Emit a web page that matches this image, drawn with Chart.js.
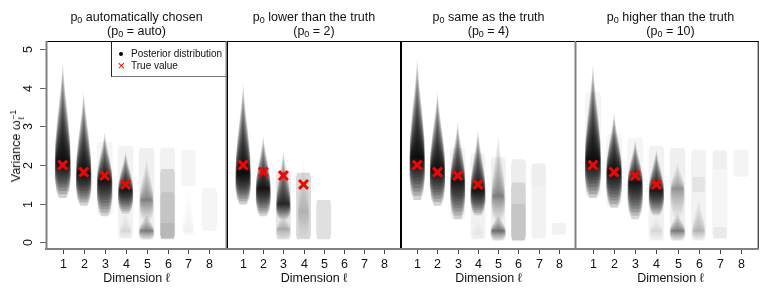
<!DOCTYPE html>
<html>
<head>
<meta charset="utf-8">
<script src="https://cdn.jsdelivr.net/npm/chart.js@4.4.1/dist/chart.umd.min.js"></script>
<style>
  body { margin: 0; width: 768px; height: 307px; background: #fff; position: relative; overflow: hidden;
         font-family: "Liberation Sans", Arial, sans-serif; color: #111; }
  canvas { position: absolute; left: 0; top: 0; }
  .ptitle { position: absolute; top: 10px; text-align: center; font-size: 12.5px; line-height: 14px; }
  .ptitle sub { font-size: 9px; vertical-align: -2px; line-height: 0; }
  .xtitle { position: absolute; top: 271px; text-align: center; font-size: 12.5px; line-height: 15px; }
  .ytitle { position: absolute; left: 17px; top: 146px; transform: translate(-50%, -50%) rotate(-90deg);
            white-space: nowrap; font-size: 12.5px; }
  .ss { display: inline-flex; flex-direction: column; font-size: 8.5px; line-height: 8px; vertical-align: middle; margin-left: 1px; }
  #legend { position: absolute; left: 111px; top: 41px; width: 115px; height: 35px;
            border-left: 1px solid #222; border-bottom: 1.5px solid #777; font-size: 10px; z-index: 2; }
  #legend .row { position: absolute; left: 19px; white-space: nowrap; line-height: 12px; }
  #legend .dot { position: absolute; left: 7px; top: 10.5px; width: 4px; height: 4px; border-radius: 50%; background: #000; }
  #legend .x { position: absolute; left: 5.5px; top: 17.5px; color: #ff0000; font-size: 13px; line-height: 13px; }
</style>
</head>
<body>
<div id="root"></div>
<div id="legend">
  <div class="dot"></div><div class="row" style="top:6.5px">Posterior distribution</div>
  <div class="x">×</div><div class="row" style="top:18.5px">True value</div>
</div>
<div class="ytitle">Variance ω<span class="ss"><span>−1</span><span>ℓ</span></span></div>
<script>
const dims = [1, 2, 3, 4, 5, 6, 7, 8];
const yTicks = [0, 1, 2, 3, 4, 5];
const trueValues = [2.0, 1.82, 1.73, 1.5];
const panelTitles = ["automatically chosen", "lower than the truth", "same as the truth", "higher than the truth"];
const panelP0 = ["auto", "2", "4", "10"];

// spindle: [dimension, low, mode, high, half width, peak darkness]
const spindlesAuto = [
  [1, 1.15, 2.1, 4.65, 0.38, 0.96],
  [2, 0.95, 1.8, 3.9, 0.37, 0.95],
  [3, 0.68, 1.6, 2.85, 0.37, 0.93],
  [4, 0.75, 1.35, 2.35, 0.36, 0.92],
  [4, 0.08, 0.3, 0.9, 0.3, 0.15],
  [5, 0.55, 1.1, 2.2, 0.34, 0.5],
  [5, 0.06, 0.3, 0.75, 0.37, 0.55],
  [7, 0.15, 0.3, 1.6, 0.3, 0.1],
];
const spindlesLow = [
  [1, 0.98, 1.8, 4.1, 0.38, 0.96],
  [2, 0.68, 1.4, 2.75, 0.37, 0.94],
  [3, 0.6, 1.0, 2.4, 0.36, 0.85],
  [3, 0.06, 0.35, 0.75, 0.36, 0.3],
  [4, 0.1, 0.8, 2.3, 0.3, 0.2],
];
const spindlesSame = [
  [1, 1.1, 2.2, 4.75, 0.38, 0.96],
  [2, 0.95, 1.9, 3.9, 0.38, 0.95],
  [3, 0.6, 1.6, 3.1, 0.37, 0.93],
  [4, 0.7, 1.35, 2.9, 0.37, 0.93],
  [4, 0.05, 0.25, 0.7, 0.3, 0.12],
  [5, 0.55, 1.2, 2.85, 0.34, 0.5],
  [5, 0.04, 0.3, 0.75, 0.38, 0.6],
];
const spindlesHigh = [
  [1, 1.15, 2.15, 4.6, 0.38, 0.96],
  [2, 0.9, 1.85, 3.35, 0.37, 0.95],
  [3, 0.6, 1.55, 2.65, 0.36, 0.93],
  [4, 0.7, 1.35, 2.4, 0.36, 0.92],
  [4, 0.05, 0.3, 0.75, 0.32, 0.15],
  [5, 0.65, 1.4, 2.1, 0.34, 0.45],
  [5, 0.04, 0.3, 0.8, 0.37, 0.55],
  [6, 0.05, 0.3, 1.2, 0.32, 0.3],
];

// block: [dimension, low, high, half width, opacity]
const blocksAuto = [
  [3, 0.7, 2.6, 0.38, 0.04],
  [4, 0.1, 2.5, 0.37, 0.05],
  [5, 0.08, 2.45, 0.37, 0.06],
  [6, 0.08, 2.45, 0.37, 0.05],
  [6, 0.08, 1.9, 0.35, 0.12],
  [6, 0.1, 1.3, 0.34, 0.08],
  [6, 0.12, 0.5, 0.34, 0.07],
  [7, 1.45, 2.4, 0.35, 0.04],
  [8, 0.3, 1.4, 0.36, 0.04],
];
const blocksLow = [
  [3, 0.08, 1.85, 0.37, 0.1],
  [4, 0.08, 1.8, 0.37, 0.15],
  [5, 0.08, 1.1, 0.37, 0.12],
];
const blocksSame = [
  [3, 0.6, 2.45, 0.38, 0.05],
  [4, 0.08, 2.3, 0.37, 0.05],
  [5, 0.05, 2.2, 0.37, 0.06],
  [6, 0.05, 2.15, 0.37, 0.07],
  [6, 0.05, 1.55, 0.36, 0.1],
  [6, 0.05, 1.0, 0.36, 0.07],
  [7, 0.1, 2.05, 0.36, 0.05],
  [7, 1.45, 2.05, 0.36, 0.02],
  [8, 0.2, 0.5, 0.36, 0.05],
];
const blocksHigh = [
  [1, 1.2, 3.9, 0.38, 0.04],
  [2, 0.95, 2.8, 0.38, 0.04],
  [3, 0.8, 2.7, 0.38, 0.04],
  [4, 0.05, 2.5, 0.37, 0.05],
  [5, 0.05, 2.45, 0.37, 0.06],
  [6, 0.05, 2.4, 0.36, 0.05],
  [6, 1.3, 1.7, 0.3, 0.06],
  [7, 0.1, 2.4, 0.36, 0.035],
  [7, 1.9, 2.35, 0.33, 0.03],
  [7, 0.1, 0.4, 0.33, 0.05],
  [8, 1.7, 2.4, 0.36, 0.045],
];

const GRAY = "#808080";
const panels = [
  { left: 46, right: 227, spindles: spindlesAuto, blocks: blocksAuto, edges: { top: "#000", left: GRAY, right: GRAY } },
  { left: 227, right: 401, spindles: spindlesLow, blocks: blocksLow, edges: { top: "#000", left: "#000", right: "#000" } },
  { left: 401, right: 576, spindles: spindlesSame, blocks: blocksSame, edges: { top: "#000", left: "#000", right: GRAY } },
  { left: 576, right: 765, spindles: spindlesHigh, blocks: blocksHigh, edges: { top: "#000", left: null, right: "#000" } },
];
const PLOT_TOP = 41;
const PLOT_BOTTOM = 249;

function fillSide(ctx, x, y, dim, side) {
  ctx.beginPath();
  side.forEach(([w, v], i) => {
    const px = x.getPixelForValue(dim + w);
    const py = y.getPixelForValue(v);
    if (i === 0) ctx.moveTo(px, py); else ctx.lineTo(px, py);
  });
  for (let i = side.length - 1; i >= 0; i--) {
    const [w, v] = side[i];
    ctx.lineTo(x.getPixelForValue(dim - w), y.getPixelForValue(v));
  }
  ctx.closePath();
  ctx.fill();
}

function drawSpindle(ctx, x, y, [dim, lo, mode, hi, hw, peak]) {
  const K = 16;
  ctx.fillStyle = `rgba(0,0,0,${1 - Math.pow(1 - peak, 1 / K)})`;
  for (let k = 0; k < K; k++) {
    const f = Math.pow((K - k) / K, 1.6);
    const l = mode - (mode - lo) * f;
    const h = mode + (hi - mode) * f;
    const w = hw * (0.72 + 0.28 * Math.sqrt(f));
    fillSide(ctx, x, y, dim, [
      [0.45 * w, l],
      [0.8 * w, l + 0.18 * (mode - l)],
      [w, l + 0.5 * (mode - l)],
      [w, mode],
      [0.93 * w, mode + 0.2 * (h - mode)],
      [0.65 * w, mode + 0.45 * (h - mode)],
      [0.28 * w, mode + 0.72 * (h - mode)],
      [0.08 * w, mode + 0.9 * (h - mode)],
      [0, h],
    ]);
  }
}

function drawBlock(ctx, x, y, [dim, lo, hi, hw, alpha]) {
  const e = Math.min(0.12, (hi - lo) * 0.15);
  ctx.fillStyle = `rgba(0,0,0,${alpha})`;
  fillSide(ctx, x, y, dim, [[0, lo], [0.85 * hw, lo], [hw, lo + e], [hw, hi - e], [0.85 * hw, hi], [0, hi]]);
}

function violinPlugin(spindles, blocks) {
  return {
    id: "violins",
    beforeDatasetsDraw(chart) {
      const { ctx, chartArea: a, scales: { x, y } } = chart;
      ctx.save();
      ctx.beginPath();
      ctx.rect(a.left, a.top, a.right - a.left, a.bottom - a.top);
      ctx.clip();
      blocks.forEach((b) => drawBlock(ctx, x, y, b));
      spindles.forEach((s) => drawSpindle(ctx, x, y, s));
      ctx.restore();
    },
  };
}

function line(ctx, x1, y1, x2, y2, color, width) {
  if (!color) return;
  ctx.strokeStyle = color;
  ctx.lineWidth = width;
  ctx.beginPath();
  ctx.moveTo(x1, y1);
  ctx.lineTo(x2, y2);
  ctx.stroke();
}

function framePlugin(edges, showY) {
  return {
    id: "frame",
    afterDraw(chart) {
      const { ctx, chartArea: a, scales: { x, y } } = chart;
      ctx.save();
      ctx.fillStyle = "#111";
      ctx.font = '12.5px "Liberation Sans", Arial, sans-serif';
      ctx.textAlign = "center";
      ctx.textBaseline = "middle";

      dims.forEach((d) => {
        const px = Math.round(x.getPixelForValue(d)) + 0.5;
        line(ctx, px, a.bottom, px, a.bottom + 5, "#444", 1);
        ctx.fillText(String(d), px, 265);
      });

      if (showY) {
        yTicks.forEach((t) => {
          const py = Math.round(y.getPixelForValue(t)) + 0.5;
          line(ctx, a.left - 6, py, a.left, py, "#666", 1);
          ctx.save();
          ctx.translate(29, py);
          ctx.rotate(-Math.PI / 2);
          ctx.fillText(String(t), 0, 0);
          ctx.restore();
        });
      }

      line(ctx, a.left, a.top + 0.5, a.right, a.top + 0.5, edges.top, 1);
      const lw = (c) => (c === GRAY ? 2 : 1);
      line(ctx, a.left + 0.5, a.top, a.left + 0.5, a.bottom, edges.left, lw(edges.left));
      line(ctx, a.right - 0.5, a.top, a.right - 0.5, a.bottom, edges.right, lw(edges.right));
      line(ctx, a.left - 1, a.bottom, a.right, a.bottom, GRAY, 2);
      ctx.restore();
    },
  };
}

const root = document.getElementById("root");

panels.forEach((p, i) => {
  const canvas = document.createElement("canvas");
  canvas.width = 768;
  canvas.height = 307;
  root.appendChild(canvas);

  const title = document.createElement("div");
  title.className = "ptitle";
  title.style.left = p.left + "px";
  title.style.width = (p.right - p.left) + "px";
  title.innerHTML = `p<sub>0</sub> ${panelTitles[i]}<br>(p<sub>0</sub> = ${panelP0[i]})`;
  document.body.appendChild(title);

  const xt = document.createElement("div");
  xt.className = "xtitle";
  xt.style.left = p.left + "px";
  xt.style.width = (p.right - p.left) + "px";
  xt.textContent = "Dimension ℓ";
  document.body.appendChild(xt);

  new Chart(canvas.getContext("2d"), {
    type: "scatter",
    data: {
      datasets: [
        {
          label: "True value",
          data: trueValues.map((v, k) => ({ x: dims[k], y: v })),
          pointStyle: "crossRot",
          pointRadius: 6.3,
          pointBorderWidth: 3,
          pointBorderColor: "#ff0000",
          pointBackgroundColor: "#ff0000",
        },
      ],
    },
    options: {
      responsive: false,
      animation: false,
      events: [],
      layout: { padding: { left: p.left, right: 768 - p.right, top: PLOT_TOP, bottom: 307 - PLOT_BOTTOM } },
      scales: {
        x: { type: "linear", min: 0.2, max: 8.84, display: false },
        y: { type: "linear", min: -0.17, max: 5.21, display: false },
      },
      plugins: { legend: { display: false }, tooltip: { enabled: false } },
    },
    plugins: [violinPlugin(p.spindles, p.blocks), framePlugin(p.edges, i === 0)],
  });
});
</script>
</body>
</html>
